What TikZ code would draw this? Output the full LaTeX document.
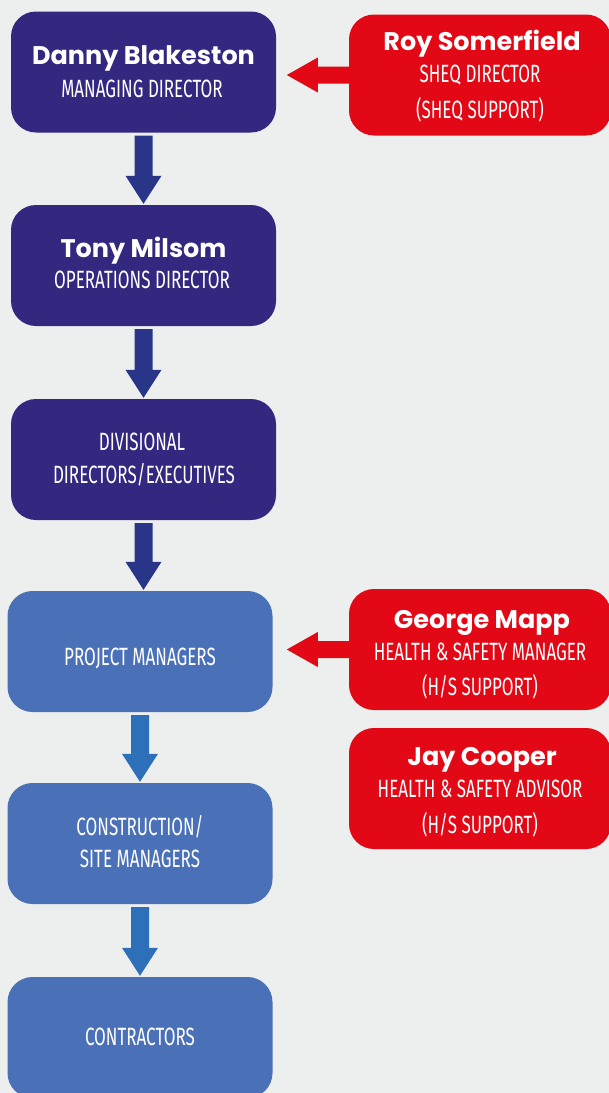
\documentclass[tikz,border=0pt]{standalone}
\usepackage{fontspec}
\usetikzlibrary{calc}
\newfontfamily\namefont{Poppins}[BoldFont={* Bold}]
\newfontfamily\rolefont{Fira Sans}[FakeStretch=0.68]
\definecolor{pagebg}{RGB}{237,239,238}
\definecolor{navybox}{RGB}{50,40,128}
\definecolor{navyarrow}{RGB}{40,53,137}
\definecolor{bluebox}{RGB}{74,113,183}
\definecolor{bluearrow}{RGB}{45,112,185}
\definecolor{supportred}{RGB}{226,8,22}
\tikzset{
  orgbox/.style={rounded corners=25pt, minimum width=265pt, minimum height=121pt, inner sep=0pt},
  navybx/.style={orgbox, fill=navybox},
  bluebx/.style={orgbox, fill=bluebox},
  redbx/.style={rounded corners=25pt, minimum width=262pt, minimum height=121pt, inner sep=0pt, fill=supportred},
  personname/.style={anchor=base, text=white, font=\namefont\bfseries\fontsize{25.5}{30}\selectfont, inner sep=0pt},
  roletext/.style={anchor=base, text=white, font=\rolefont\fontsize{25}{30}\selectfont, inner sep=0pt},
}
% block arrow pointing down from node #1 to node #2, on the axis of #1
\newcommand{\blockdown}[3]{%
  \fill[#3] ($(#1.south)+(-9,3)$) -- ($(#1.south)+(9,3)$)
    -- ($(#1.south |- #2.north)+(9,-29)$) -- ($(#1.south |- #2.north)+(18,-29)$)
    -- ($(#1.south |- #2.north)+(0,-1)$)
    -- ($(#1.south |- #2.north)+(-18,-29)$) -- ($(#1.south |- #2.north)+(-9,-29)$) -- cycle;}
% block arrow pointing left from node #1 towards node #2
\newcommand{\blockleft}[2]{%
  \fill[supportred] ($(#1.west)+(0,-8.5)$) -- ($(#1.west)+(-31,-8.5)$) -- ($(#1.west)+(-31,-17.5)$)
    -- ($(#1.west)!62pt!(#1.west -| #2.east)$) -- ($(#1.west)+(-31,17.5)$) -- ($(#1.west)+(-31,8.5)$)
    -- ($(#1.west)+(0,8.5)$) -- cycle;}
\begin{document}
\begin{tikzpicture}[x=1pt,y=-1pt]
\fill[pagebg] (0,0) rectangle (609,1093);
\useasboundingbox (0,0) rectangle (609,1093);

% management chain
\node[navybx] (md) at (143.5,72) {};
\node[navybx] (od) at (143.5,265.5) {};
\node[navybx] (dd) at (143.5,459.5) {};
\node[bluebx] (pm) at (140,651.5) {};
\node[bluebx] (cm) at (140,843.5) {};
\node[bluebx] (ct) at (140,1037.5) {};

% support roles
\node[redbx] (sheq) at (480,75) {};
\node[redbx] (hsm) at (480,649.5) {};
\node[redbx] (hsa) at (480,788.5) {};

% texts
\node[personname] (md-n) at (143.5,64) {Danny Blakeston};
\node[roletext] (md-r) at (142,97) {MANAGING DIRECTOR};
\node[personname] (od-n) at (143.5,257) {Tony Milsom};
\node[roletext] (od-r) at (142,288) {OPERATIONS DIRECTOR};
\node[roletext] (dd-r1) at (142,450) {DIVISIONAL};
\node[roletext] (dd-r2) at (144,483) {DIRECTORS/EXECUTIVES};
\node[roletext] (pm-r) at (140,665) {PROJECT MANAGERS};
\node[roletext] (cm-r1) at (140,835) {CONSTRUCTION/};
\node[roletext] (cm-r2) at (140,867) {SITE MANAGERS};
\node[roletext] (ct-r) at (140,1045) {CONTRACTORS};

\node[personname] (sheq-n) at (482,50) {Roy Somerfield};
\node[roletext] (sheq-r1) at (480,82) {SHEQ DIRECTOR};
\node[roletext] (sheq-r2) at (480,118) {(SHEQ SUPPORT)};
\node[personname] (hsm-n) at (482,628) {George Mapp};
\node[roletext] (hsm-r1) at (480,660) {HEALTH \& SAFETY MANAGER};
\node[roletext] (hsm-r2) at (480,695) {(H/S SUPPORT)};
\node[personname] (hsa-n) at (482,765) {Jay Cooper};
\node[roletext] (hsa-r1) at (480,797) {HEALTH \& SAFETY ADVISOR};
\node[roletext] (hsa-r2) at (480,833) {(H/S SUPPORT)};

% connectors
\blockdown{md}{od}{navyarrow}
\blockdown{od}{dd}{navyarrow}
\blockdown{dd}{pm}{navyarrow}
\blockdown{pm}{cm}{bluearrow}
\blockdown{cm}{ct}{bluearrow}
\blockleft{sheq}{md}
\blockleft{hsm}{pm}
\end{tikzpicture}
\end{document}
